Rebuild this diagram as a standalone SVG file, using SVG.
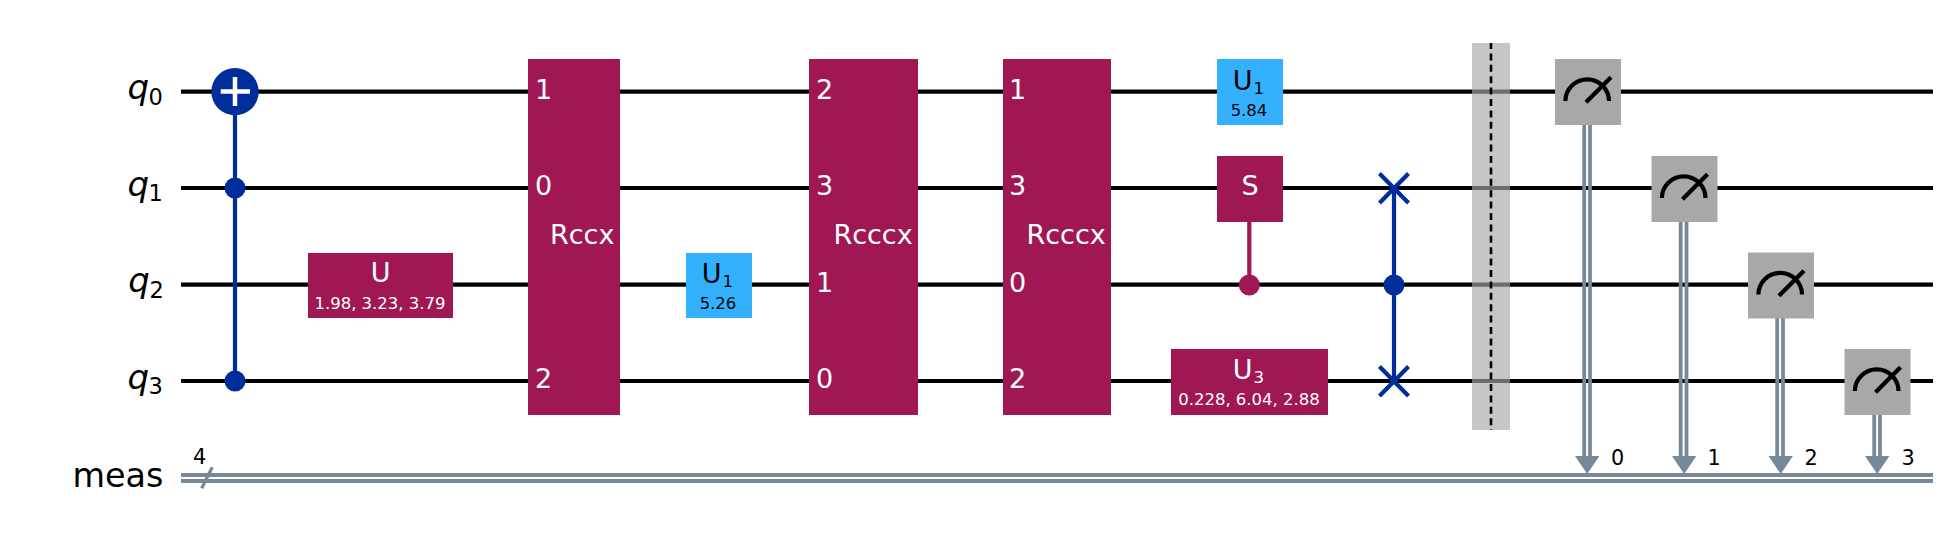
<svg xmlns="http://www.w3.org/2000/svg" width="1955" height="551" viewBox="0 0 1955 551">
<style>
text{font-family:"DejaVu Sans",sans-serif}
.w{stroke:#000;stroke-width:4.2;fill:none}
.c{stroke:#778899;stroke-width:4.2;fill:none}
.b{stroke:#002d9c;stroke-width:4.2;fill:none}
.m{stroke:#9f1853;stroke-width:4.2;fill:none}
.mag{fill:#9f1853}.sky{fill:#33b1ff}.gr{fill:#a8a8a8}
.t{font-size:27px;fill:#fff}
.tk{font-size:27px;fill:#000}
.p{font-size:16.5px;fill:#fff;text-anchor:middle}
.pk{font-size:16.5px;fill:#000;text-anchor:middle}
.sub{font-size:16.6px}
.r{font-size:33.4px;fill:#000}
.q{font-size:34px;font-style:italic;fill:#000}
.rs{font-size:22.5px;fill:#000}
.n{font-size:20.8px;fill:#000}
.mt{stroke:#000;stroke-width:4.2;fill:none}
</style>
<defs>
<g id="meter"><rect class="gr" x="-33" y="-33" width="66" height="66"/><path class="mt" d="M-22.6 9A21.8 21.7 0 0 1 21 9"/><path class="mt" d="M-2 10.3L23 -14.7"/></g>
</defs>
<g id="connectors">
<g id="wires">
<path class="w" d="M181 91.7H1933M181 188H1933M181 284.7H1933M181 381H1933"/>
<path class="c" d="M181 475H1933M181 481H1933"/>
<path class="c" style="stroke-width:3.3" d="M201.7 488.3L212.3 467.3"/>
</g>
<path class="b" d="M235 91.7V381"/>
<path class="b" d="M1394 188V381"/>
<path class="m" d="M1249.3 222V285"/>
<path class="c" style="stroke-width:3.8" d="M1584.2 125V458M1590 125V458M1680.7 222V458M1686.5 222V458M1777.2 318V458M1783 318V458M1874.2 415V458M1880 415V458"/>
<path fill="#778899" d="M1575 456H1599.4L1587.2 474ZM1672 456H1696.4L1684.2 474ZM1768.5 456H1792.9L1780.7 474ZM1865 456H1889.4L1877.2 474Z"/>
</g>
<g id="reg-labels">
<text class="q" x="127.5" y="99.2">q</text><text class="rs" x="148.6" y="104.7">0</text>
<text class="q" x="127.5" y="195.5">q</text><text class="rs" x="148.6" y="201">1</text>
<text class="q" x="128.3" y="292.2">q</text><text class="rs" x="149.4" y="297.7">2</text>
<text class="q" x="127.5" y="388.5">q</text><text class="rs" x="148.6" y="394">3</text>
<text class="r" x="163.4" y="487" text-anchor="end">meas</text>
<text class="n" x="193" y="464">4</text>
</g>
<g id="cx"><circle cx="235" cy="91.7" r="23.7" fill="#002d9c"/><path stroke="#fff" stroke-width="4.5" d="M220.7 91.5H250M235 77V106"/><circle cx="235" cy="188" r="10.5" fill="#002d9c"/><circle cx="235" cy="381" r="10.5" fill="#002d9c"/></g>
<g id="u"><rect class="mag" x="308" y="253" width="145" height="65"/><text class="t" x="380.7" y="282" text-anchor="middle">U</text><text class="p" x="380" y="308.8">1.98, 3.23, 3.79</text></g>
<g id="rccx"><rect class="mag" x="528" y="59" width="92" height="356"/><text class="t" x="535" y="98.5">1</text><text class="t" x="535" y="195">0</text><text class="t" x="535" y="388">2</text><text class="t" x="550" y="244.3">Rccx</text></g>
<g id="u1a"><rect class="sky" x="686" y="253" width="66" height="65"/><text class="tk" x="701.7" y="283">U</text><text class="tk sub" x="722.5" y="286.6">1</text><text class="pk" x="718" y="309">5.26</text></g>
<g id="rcccx1"><rect class="mag" x="809" y="59" width="109" height="356"/><text class="t" x="816" y="98.5">2</text><text class="t" x="816" y="195">3</text><text class="t" x="816" y="291.5">1</text><text class="t" x="816" y="388">0</text><text class="t" x="833.4" y="244.3">Rcccx</text></g>
<g id="rcccx2"><rect class="mag" x="1003" y="59" width="108" height="356"/><text class="t" x="1009" y="98.5">1</text><text class="t" x="1009" y="195">3</text><text class="t" x="1009" y="291.5">0</text><text class="t" x="1009" y="388">2</text><text class="t" x="1026.5" y="244.3">Rcccx</text></g>
<g id="u1b"><rect class="sky" x="1217" y="59" width="66" height="66"/><text class="tk" x="1232.7" y="90">U</text><text class="tk sub" x="1253.5" y="93.6">1</text><text class="pk" x="1249" y="116">5.84</text></g>
<g id="s"><rect class="mag" x="1217" y="156" width="66" height="66"/><text class="t" x="1250" y="195" text-anchor="middle">S</text><circle cx="1249.3" cy="285" r="10.5" fill="#9f1853"/></g>
<g id="u3"><rect class="mag" x="1171" y="349" width="157" height="66"/><text class="t" x="1232.7" y="379.3">U</text><text class="t sub" x="1253.5" y="382.9">3</text><text class="p" x="1249" y="405.3">0.228, 6.04, 2.88</text></g>
<g id="swap"><path class="b" d="M1379.5 173.5L1408.5 203M1408.5 173.5L1379.5 203M1379.5 366.5L1408.5 396M1408.5 366.5L1379.5 396"/><circle cx="1394" cy="285" r="10.5" fill="#002d9c"/></g>
<g id="barrier"><rect x="1472" y="43" width="38" height="387" fill="#a8a8a8" fill-opacity=".65"/><path stroke="#000" stroke-width="2.6" stroke-dasharray="7 4.4" stroke-dashoffset="1" d="M1491 43V430"/></g>
<use id="m0" href="#meter" x="1588" y="92"/>
<use id="m1" href="#meter" x="1684.5" y="189"/>
<use id="m2" href="#meter" x="1781" y="285.5"/>
<use id="m3" href="#meter" x="1877.5" y="382"/>
<g id="clbits"><text class="n" x="1611" y="464.7">0</text><text class="n" x="1707.5" y="464.7">1</text><text class="n" x="1804.5" y="464.7">2</text><text class="n" x="1901.5" y="464.7">3</text></g>
</svg>
